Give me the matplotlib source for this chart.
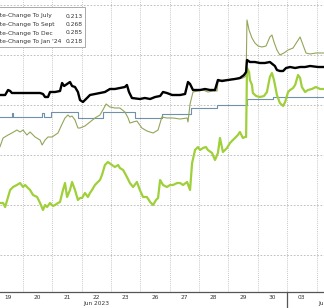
import matplotlib
matplotlib.use("Agg")
import matplotlib.pyplot as plt
import matplotlib.transforms as mtrans
from matplotlib.patches import Rectangle

plt.rcParams['font.family'] = 'DejaVu Sans'

# x = trading-day position (0 = Jun 19, 10 = Jul 03), y = chart units
day_labels = ["19", "20", "21", "22", "23", "26", "27", "28", "29", "30", "03"]
day_label_pos = [0.5, 1.5, 2.5, 3.5, 4.5, 5.5, 6.5, 7.5, 8.5, 9.5, 10.5]
month_labels = ["Jun 2023", "Jul 2023"]

legend_names = ["Rate-Change To July", "Rate-Change To Sept",
                "Rate-Change To Dec", "Rate-Change To Jan '24"]
legend_values = ["0.213", "0.268", "0.285", "0.218"]

# Sept (black)
sept_t = [0.14, 0.21, 0.39, 0.49, 0.56, 0.62, 0.90, 1.24, 1.58, 1.68, 1.75, 1.85, 1.92, 2.09, 2.26,
          2.33, 2.40, 2.50, 2.60, 2.67, 2.77, 2.87, 2.94, 3.04, 3.18, 3.28, 3.45, 3.62, 3.79, 3.96,
          4.13, 4.30, 4.47, 4.54, 4.61, 4.71, 4.98, 5.15, 5.33, 5.50, 5.67, 5.77, 5.90, 6.08, 6.35,
          6.52, 6.62, 6.69, 6.79, 7.03, 7.20, 7.37, 7.54, 7.64, 7.78, 7.98, 8.22, 8.39, 8.53, 8.60,
          8.63, 8.73, 8.90, 9.07, 9.24, 9.41, 9.58, 9.65, 9.75, 9.86, 9.96, 10.10, 10.27, 10.44,
          10.61, 10.78, 11.05, 11.32]
sept_v = [0.210, 0.210, 0.210, 0.215, 0.214, 0.212, 0.212, 0.212, 0.212, 0.211, 0.208, 0.208,
          0.213, 0.213, 0.214, 0.222, 0.219, 0.221, 0.223, 0.219, 0.218, 0.213, 0.205, 0.203,
          0.207, 0.210, 0.211, 0.212, 0.213, 0.216, 0.216, 0.217, 0.218, 0.220, 0.213, 0.207,
          0.206, 0.207, 0.206, 0.208, 0.209, 0.213, 0.212, 0.210, 0.210, 0.211, 0.223, 0.221,
          0.215, 0.215, 0.216, 0.215, 0.215, 0.225, 0.224, 0.225, 0.226, 0.227, 0.230, 0.233,
          0.245, 0.243, 0.243, 0.242, 0.242, 0.243, 0.239, 0.235, 0.234, 0.234, 0.237, 0.238,
          0.237, 0.238, 0.238, 0.239, 0.238, 0.238]

# Dec (thin olive)
dec_t = [0.14, 0.21, 0.32, 0.49, 0.62, 0.79, 0.90, 1.00, 1.13, 1.24, 1.41, 1.58, 1.65, 1.75, 1.85,
         1.99, 2.09, 2.19, 2.33, 2.43, 2.53, 2.60, 2.67, 2.77, 2.87, 2.94, 3.11, 3.28, 3.45, 3.62,
         3.72, 3.83, 3.96, 4.13, 4.30, 4.47, 4.58, 4.64, 4.75, 4.88, 5.05, 5.22, 5.43, 5.60, 5.67,
         5.73, 5.90, 6.11, 6.35, 6.59, 6.62, 6.69, 6.79, 6.96, 7.13, 7.30, 7.47, 7.61, 7.64, 7.78,
         7.95, 8.15, 8.32, 8.49, 8.60, 8.63, 8.70, 8.80, 8.90, 9.01, 9.14, 9.28, 9.41, 9.48, 9.55,
         9.65, 9.75, 9.89, 10.03, 10.20, 10.33, 10.44, 10.54, 10.64, 10.78, 10.98, 11.32]
dec_v = [0.157, 0.158, 0.167, 0.170, 0.172, 0.175, 0.173, 0.175, 0.170, 0.173, 0.168, 0.165, 0.160,
         0.165, 0.168, 0.168, 0.170, 0.172, 0.181, 0.187, 0.190, 0.188, 0.189, 0.185, 0.177, 0.177,
         0.179, 0.183, 0.187, 0.190, 0.195, 0.201, 0.198, 0.197, 0.197, 0.193, 0.187, 0.182, 0.183,
         0.184, 0.177, 0.174, 0.172, 0.175, 0.182, 0.188, 0.187, 0.187, 0.186, 0.187, 0.183, 0.201,
         0.213, 0.214, 0.215, 0.213, 0.214, 0.214, 0.223, 0.225, 0.225, 0.226, 0.226, 0.227, 0.229,
         0.285, 0.275, 0.267, 0.262, 0.259, 0.258, 0.259, 0.268, 0.270, 0.263, 0.255, 0.250, 0.252,
         0.255, 0.257, 0.263, 0.268, 0.260, 0.252, 0.251, 0.252, 0.252]

# July (blue-grey, steps)
july_t = [0.14, 0.62, 0.66, 1.65, 1.70, 1.94, 2.86, 3.74, 4.83, 5.72, 6.72, 7.62, 8.62, 9.53, 11.32]
july_v = [0.188, 0.192, 0.188, 0.192, 0.188, 0.193, 0.187, 0.193, 0.187, 0.191, 0.197, 0.200,
          0.206, 0.208, 0.208]

# Jan '24 (bright green)
jan_t = [0.14, 0.21, 0.32, 0.39, 0.49, 0.56, 0.66, 0.79, 0.90, 1.00, 1.07, 1.17, 1.24, 1.34, 1.48,
         1.58, 1.68, 1.75, 1.82, 1.92, 2.02, 2.09, 2.19, 2.26, 2.36, 2.43, 2.50, 2.60, 2.67, 2.77,
         2.87, 2.94, 3.01, 3.11, 3.21, 3.28, 3.35, 3.45, 3.55, 3.62, 3.69, 3.79, 3.89, 4.03, 4.13,
         4.24, 4.30, 4.41, 4.54, 4.64, 4.75, 4.88, 4.98, 5.09, 5.22, 5.33, 5.43, 5.53, 5.60, 5.67,
         5.77, 5.90, 6.01, 6.11, 6.25, 6.35, 6.45, 6.59, 6.69, 6.76, 6.86, 6.96, 7.03, 7.13, 7.23,
         7.30, 7.44, 7.54, 7.64, 7.71, 7.81, 7.95, 8.05, 8.15, 8.22, 8.32, 8.39, 8.49, 8.56, 8.60,
         8.63, 8.70, 8.73, 8.80, 8.83, 8.94, 9.07, 9.21, 9.31, 9.41, 9.48, 9.55, 9.65, 9.75, 9.86,
         9.93, 10.03, 10.10, 10.20, 10.27, 10.37, 10.44, 10.50, 10.61, 10.71, 10.84, 10.98, 11.12,
         11.32]
jan_v = [0.102, 0.102, 0.102, 0.098, 0.108, 0.115, 0.118, 0.120, 0.122, 0.118, 0.120, 0.117, 0.115,
         0.110, 0.108, 0.102, 0.095, 0.100, 0.098, 0.102, 0.099, 0.100, 0.102, 0.103, 0.115, 0.122,
         0.108, 0.115, 0.123, 0.115, 0.105, 0.107, 0.107, 0.112, 0.108, 0.112, 0.115, 0.120, 0.123,
         0.125, 0.130, 0.140, 0.143, 0.140, 0.138, 0.140, 0.137, 0.135, 0.128, 0.122, 0.118, 0.123,
         0.115, 0.108, 0.108, 0.103, 0.100, 0.105, 0.107, 0.125, 0.120, 0.118, 0.120, 0.120, 0.122,
         0.122, 0.120, 0.123, 0.115, 0.142, 0.155, 0.158, 0.155, 0.157, 0.158, 0.155, 0.152, 0.145,
         0.152, 0.167, 0.153, 0.157, 0.162, 0.165, 0.167, 0.170, 0.173, 0.167, 0.168, 0.168, 0.237,
         0.233, 0.225, 0.220, 0.212, 0.209, 0.208, 0.209, 0.213, 0.228, 0.232, 0.225, 0.210, 0.202,
         0.199, 0.203, 0.213, 0.215, 0.217, 0.220, 0.230, 0.227, 0.218, 0.213, 0.215, 0.216, 0.218,
         0.216, 0.216]

fig = plt.figure(figsize=(3.24, 3.08), dpi=100)
ax = fig.add_axes([0, 16 / 308, 1, 292 / 308])

ax.plot(july_t, july_v, color='#7191aa', lw=0.8, drawstyle='steps-post', zorder=3)
ax.plot(dec_t, dec_v, color='#93a559', lw=0.8, zorder=3)
ax.plot(jan_t, jan_v, color='#9fd03a', lw=1.6, zorder=4)
ax.plot(sept_t, sept_v, color='black', lw=1.7, zorder=5)

ax.set_xlim(0.215, 11.254)
ax.set_ylim(0.013, 0.305)

ax.set_yticks([0.05, 0.10, 0.15, 0.20, 0.25, 0.30])
ax.set_xticks(range(1, 12), minor=True)
ax.set_xticks(day_label_pos)
ax.set_xticklabels(day_labels, fontsize=4.2, color='#333333')
ax.tick_params(axis='x', which='both', length=0, pad=2)
ax.tick_params(axis='y', which='both', length=0, labelleft=False)
ax.grid(True, axis='y', which='major', color='#b4b4b4', ls=(0, (2, 2)), lw=0.6)
ax.grid(True, axis='x', which='minor', color='#b4b4b4', ls=(0, (1, 1.5)), lw=0.6)
ax.grid(False, axis='x', which='major')

for s in ['left', 'right', 'top']:
    ax.spines[s].set_visible(False)
ax.spines['bottom'].set_color('#555555')
ax.spines['bottom'].set_linewidth(0.9)

# month separator below the axis
blend = mtrans.blended_transform_factory(ax.transData, ax.transAxes)
ax.plot([10, 10], [0, -0.06], transform=blend, color='#555555', lw=0.9, clip_on=False)
ax.text(3.5, -0.041, month_labels[0], transform=blend, fontsize=4.2, color='#333333',
        ha='center', va='center')
ax.text(11.05, -0.041, month_labels[1], transform=blend, fontsize=4.2, color='#333333',
        ha='left', va='center')

# legend box (cut off at the left edge)
fig.add_artist(Rectangle((-10 / 324, 1 - 47 / 308), 95 / 324, 40 / 308,
                         transform=fig.transFigure, facecolor='white',
                         edgecolor='#aaaaaa', lw=0.7, zorder=10))
row_y = [16, 24.5, 33, 41.5]
for name, val, yy in zip(legend_names, legend_values, row_y):
    fig.text(-7.5 / 324, 1 - yy / 308, name, fontsize=4.3, color='#333333',
             ha='left', va='center', zorder=11)
    fig.text(82.5 / 324, 1 - yy / 308, val, fontsize=4.3, color='#333333',
             ha='right', va='center', zorder=11)

fig.savefig('out.png', dpi=100)
